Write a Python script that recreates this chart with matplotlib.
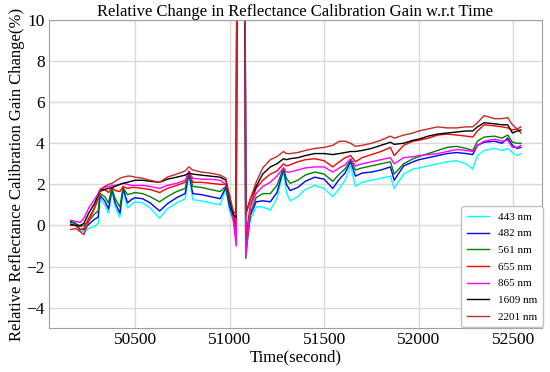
import matplotlib
matplotlib.use("Agg")
import matplotlib.pyplot as plt

plt.rcParams['font.family'] = ['Liberation Serif', 'DejaVu Serif']

# Zeitachse (Sekunden)
time_s = [50160, 50185, 50210, 50230, 50255, 50285, 50305, 50315, 50340, 50360,
          50378, 50395, 50420, 50437, 50460, 50480, 50500, 50540, 50580, 50630,
          50670, 50720, 50765, 50785, 50805, 50850, 50900, 50950, 50980, 51000,
          51020, 51035, 51042, 51078, 51085, 51110, 51140, 51175, 51215, 51250,
          51285, 51300, 51320, 51360, 51400, 51450, 51500, 51545, 51580, 51610,
          51640, 51665, 51700, 51750, 51800, 51850, 51870, 51920, 51970, 52000,
          52050, 52100, 52150, 52200, 52250, 52285, 52310, 52345, 52400, 52440,
          52470, 52495, 52520, 52540]

# relative Aenderung (%) pro Band
b443 = [0.10, 0.05, -0.30, -0.30, -0.15, -0.05, 0.10, 1.35, 1.00, 0.60,
        1.70, 0.90, 0.40, 1.75, 0.85, 1.00, 1.15, 1.10, 0.85, 0.35,
        0.80, 1.10, 1.30, 2.50, 1.25, 1.20, 1.10, 1.00, 1.80, 0.70,
        0.20, -0.50, 30, 30, -0.80, 0.30, 0.90, 0.90, 0.75, 1.30,
        2.70, 1.60, 1.20, 1.40, 1.75, 1.95, 1.80, 1.40, 1.80, 2.20,
        2.90, 1.90, 2.10, 2.20, 2.30, 2.40, 1.80, 2.50, 2.75, 2.80,
        2.90, 3.00, 3.10, 3.15, 3.00, 2.75, 3.40, 3.65, 3.75, 3.65,
        3.75, 3.55, 3.40, 3.50]
b482 = [0.20, 0.10, -0.20, -0.20, 0.05, 0.30, 0.40, 1.45, 1.20, 0.80,
        1.75, 1.10, 0.60, 1.80, 1.10, 1.25, 1.35, 1.30, 1.10, 0.70,
        1.05, 1.35, 1.55, 2.55, 1.55, 1.50, 1.40, 1.30, 1.85, 0.90,
        0.35, -0.60, 30, 30, -1.10, 0.50, 1.15, 1.20, 1.15, 1.60,
        2.75, 2.00, 1.70, 1.85, 2.15, 2.35, 2.25, 1.80, 2.25, 2.55,
        3.10, 2.40, 2.55, 2.60, 2.70, 2.85, 2.20, 2.90, 3.10, 3.20,
        3.30, 3.40, 3.50, 3.55, 3.50, 3.45, 3.90, 4.05, 4.10, 4.00,
        4.25, 3.90, 3.75, 3.80]
b561 = [0.15, 0.10, -0.05, 0.00, 0.20, 0.55, 0.70, 1.55, 1.40, 1.10,
        1.80, 1.30, 0.90, 1.85, 1.50, 1.55, 1.60, 1.55, 1.40, 1.15,
        1.40, 1.65, 1.80, 2.60, 1.90, 1.85, 1.75, 1.65, 1.90, 1.10,
        0.50, -0.70, 30, 30, -1.60, 0.60, 1.35, 1.55, 1.55, 1.95,
        2.80, 2.30, 2.05, 2.20, 2.45, 2.60, 2.50, 2.15, 2.50, 2.75,
        3.20, 2.70, 2.80, 2.90, 3.00, 3.10, 2.50, 3.00, 3.25, 3.35,
        3.50, 3.65, 3.80, 3.85, 3.75, 3.65, 4.10, 4.30, 4.35, 4.25,
        4.40, 4.05, 4.00, 4.00]
b655 = [0.00, 0.00, -0.20, -0.15, 0.35, 0.85, 1.30, 1.65, 1.75, 1.60,
        1.85, 1.70, 1.65, 1.90, 1.80, 1.85, 1.85, 1.80, 1.75, 1.60,
        1.80, 1.95, 2.10, 2.65, 2.10, 2.10, 2.05, 2.00, 2.00, 1.40,
        0.60, -0.30, 30, 30, -0.60, 1.00, 1.80, 2.20, 2.50, 2.65,
        3.00, 2.90, 2.95, 3.10, 3.20, 3.25, 3.15, 2.85, 3.10, 3.30,
        3.40, 3.10, 3.30, 3.45, 3.60, 3.80, 3.40, 3.90, 4.10, 4.15,
        4.25, 4.40, 4.45, 4.40, 4.35, 4.30, 4.60, 4.90, 4.85, 4.80,
        4.75, 4.65, 4.70, 4.50]
b865 = [0.25, 0.20, 0.15, 0.35, 0.85, 1.25, 1.55, 1.75, 1.85, 1.90,
        1.95, 1.95, 2.00, 2.05, 2.00, 1.95, 1.95, 1.95, 1.90, 1.80,
        1.95, 2.05, 2.20, 2.60, 2.30, 2.25, 2.25, 2.20, 2.00, 1.50,
        0.20, -1.00, 30, 30, -1.60, 0.90, 1.55, 1.90, 2.10, 2.40,
        2.80, 2.60, 2.60, 2.70, 2.80, 2.85, 2.85, 2.60, 2.80, 2.95,
        3.25, 2.90, 3.00, 3.10, 3.20, 3.30, 3.00, 3.30, 3.35, 3.40,
        3.45, 3.50, 3.60, 3.70, 3.65, 3.60, 3.90, 4.10, 4.20, 4.10,
        4.15, 3.80, 3.80, 3.90]
b1609 = [0.05, 0.00, 0.00, 0.10, 0.60, 1.05, 1.45, 1.70, 1.75, 1.80,
         1.85, 1.90, 2.00, 2.05, 2.10, 2.15, 2.20, 2.20, 2.15, 2.10,
         2.25, 2.35, 2.45, 2.55, 2.50, 2.45, 2.40, 2.35, 2.20, 1.30,
         0.50, 0.40, 30, 30, 0.55, 1.30, 1.90, 2.50, 2.85, 3.00,
         3.25, 3.20, 3.25, 3.30, 3.40, 3.50, 3.50, 3.45, 3.50, 3.55,
         3.60, 3.60, 3.65, 3.75, 3.90, 4.05, 3.95, 4.00, 4.15, 4.20,
         4.35, 4.45, 4.50, 4.55, 4.60, 4.60, 4.80, 5.00, 4.95, 4.90,
         4.90, 4.50, 4.60, 4.65]
b2201 = [-0.20, -0.15, -0.30, -0.45, 0.20, 0.80, 1.30, 1.75, 1.90, 2.00,
         2.05, 2.15, 2.30, 2.35, 2.40, 2.40, 2.35, 2.30, 2.20, 2.10,
         2.35, 2.50, 2.65, 2.85, 2.70, 2.60, 2.55, 2.45, 2.30, 1.40,
         0.70, 0.50, 30, 30, 0.50, 1.30, 2.10, 2.80, 3.20, 3.35,
         3.60, 3.50, 3.50, 3.55, 3.65, 3.75, 3.80, 3.90, 4.10, 4.10,
         4.00, 3.85, 3.90, 4.00, 4.15, 4.35, 4.25, 4.40, 4.50, 4.60,
         4.70, 4.80, 4.75, 4.75, 4.80, 4.80, 5.00, 5.35, 5.20, 5.20,
         5.25, 4.90, 4.70, 4.80]

bands = [b443, b482, b561, b655, b865, b1609, b2201]
labels = ['443 nm', '482 nm', '561 nm', '655 nm', '865 nm', '1609 nm', '2201 nm']
colors = ['cyan', 'blue', 'green', 'red', 'magenta', 'black', '#c62828']

fig = plt.figure(figsize=(5.5, 3.72), dpi=100)
ax = fig.add_axes([0.089, 0.118, 0.896, 0.828])

for werte, name, farbe in zip(bands, labels, colors):
    ax.plot(time_s, werte, color=farbe, linewidth=1.0, label=name)

ax.set_xlim(50045, 52650)
ax.set_ylim(-5, 10)
ax.set_xticks([50500, 51000, 51500, 52000, 52500])
ax.set_yticks([-4, -2, 0, 2, 4, 6, 8, 10])
ax.tick_params(labelsize=12.5, length=0, pad=3)
ax.grid(True, color='#d9d9d9', linewidth=1.0)
for s in ax.spines.values():
    s.set_color('#a0a0a0')

ax.set_title('Relative Change in Reflectance Calibration Gain w.r.t Time', fontsize=12, pad=3)
ax.set_xlabel('Time(second)', fontsize=12, labelpad=1)
ax.set_ylabel('Relative Reflectance Calibration Gain Change(%)', fontsize=12, labelpad=1)

ax.legend(loc='lower right', bbox_to_anchor=(0.997, 0.105), bbox_transform=fig.transFigure,
          fontsize=8, handlelength=2.0, labelspacing=0.62, borderpad=0.5, framealpha=1.0,
          edgecolor='#c0c0c0')

fig.savefig('out.png', dpi=100)
